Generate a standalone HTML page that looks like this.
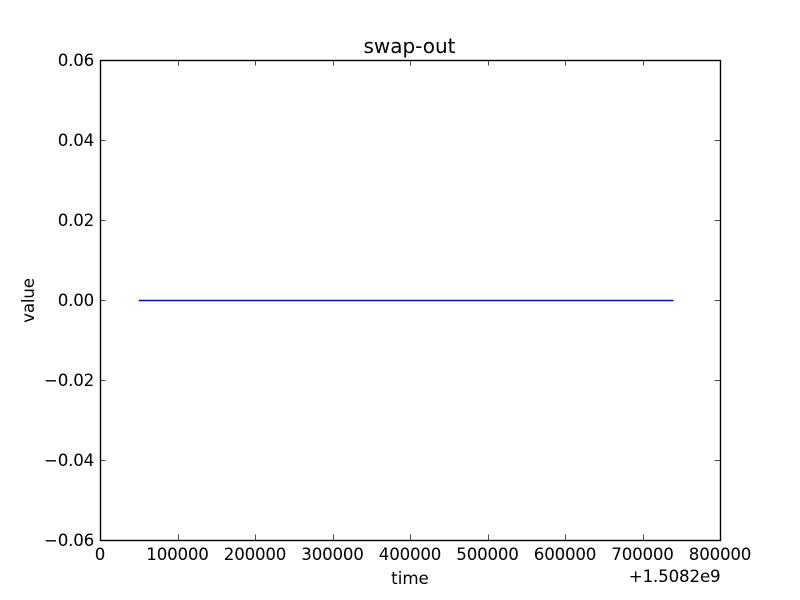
<!DOCTYPE html>
<html>
<head>
<meta charset="utf-8">
<style>
html,body{margin:0;padding:0;background:#fff;width:800px;height:600px;overflow:hidden}
svg{display:block}
text{font-family:"DejaVu Sans",sans-serif;fill:#000}
</style>
</head>
<body>
<svg id="chart" width="800" height="600" viewBox="0 0 800 600" xmlns="http://www.w3.org/2000/svg">
<rect width="800" height="600" fill="#fff"/>
<rect x="100" y="60" width="620" height="480" fill="#fff"/>
<g id="series"></g>
<g id="ticks"></g>
<rect x="100.5" y="60.5" width="620" height="480" fill="none" stroke="#000" stroke-width="1.39"/>
<text x="409.5" y="53" font-size="20" text-anchor="middle">swap-out</text>
<text x="410" y="584" font-size="16.67" text-anchor="middle">time</text>
<text x="34" y="300.5" font-size="16.67" text-anchor="middle" letter-spacing="-0.15" transform="rotate(-90 34 300.5)">value</text>
<text x="720.5" y="582" font-size="16.67" text-anchor="end" letter-spacing="-0.15">+1.5082e9</text>
</svg>
<script>
const times = [50000, 140000, 230000, 320000, 410000, 500000, 590000, 680000, 740000];
const values = [0, 0, 0, 0, 0, 0, 0, 0, 0];
const xTickValues = [0, 100000, 200000, 300000, 400000, 500000, 600000, 700000, 800000];
const xTickLabels = ['0', '100000', '200000', '300000', '400000', '500000', '600000', '700000', '800000'];
const yTickValues = [-0.06, -0.04, -0.02, 0, 0.02, 0.04, 0.06];
const yTickLabels = ['\u22120.06', '\u22120.04', '\u22120.02', '0.00', '0.02', '0.04', '0.06'];

const NS = 'http://www.w3.org/2000/svg';
const plotLeft = 100, plotRight = 720, plotTop = 60, plotBottom = 540;
const xMin = 0, xMax = 800000, yMin = -0.06, yMax = 0.06;
const tickLen = 5.5;

function xScale(v) { return plotLeft + (v - xMin) / (xMax - xMin) * (plotRight - plotLeft); }
function yScale(v) { return plotBottom - (v - yMin) / (yMax - yMin) * (plotBottom - plotTop); }
function snap(p) { return Math.round(p) + 0.5; }

const seriesGroup = document.getElementById('series');
const tickGroup = document.getElementById('ticks');

const line = document.createElementNS(NS, 'polyline');


line.setAttribute('points', times.map((t, i) => xScale(t) + ',' + (yScale(values[i]) + 0.5)).join(' '));
line.setAttribute('fill', 'none');
line.setAttribute('stroke', '#0000ff');
line.setAttribute('stroke-width', '1.39');
seriesGroup.appendChild(line);

function addTickMark(x1, y1, x2, y2) {
  const t = document.createElementNS(NS, 'line');
  
  
  t.setAttribute('x1', x1);
  t.setAttribute('y1', y1);
  t.setAttribute('x2', x2);
  t.setAttribute('y2', y2);
  t.setAttribute('stroke', '#000');
  t.setAttribute('stroke-width', '0.7');
  tickGroup.appendChild(t);
}

xTickValues.forEach((v, i) => {
  const x = xScale(v);
  const sx = snap(x);
  addTickMark(sx, plotBottom, sx, plotBottom - tickLen);
  addTickMark(sx, plotTop, sx, plotTop + tickLen);
  const label = document.createElementNS(NS, 'text');
  
  
  label.setAttribute('x', x);
  label.setAttribute('y', 560);
  label.setAttribute('font-size', '16.67');
  label.setAttribute('letter-spacing', '-0.2');
  label.setAttribute('text-anchor', 'middle');
  label.textContent = xTickLabels[i];
  tickGroup.appendChild(label);
});

yTickValues.forEach((v, i) => {
  const y = yScale(v);
  const sy = snap(y);
  addTickMark(plotLeft, sy, plotLeft + tickLen, sy);
  addTickMark(plotRight, sy, plotRight - tickLen, sy);
  const label = document.createElementNS(NS, 'text');
  
  
  label.setAttribute('x', 94);
  label.setAttribute('y', y + 6);
  label.setAttribute('font-size', '16.67');
  label.setAttribute('letter-spacing', '-0.2');
  label.setAttribute('text-anchor', 'end');
  label.textContent = yTickLabels[i];
  tickGroup.appendChild(label);
});
</script>
</body>
</html>
